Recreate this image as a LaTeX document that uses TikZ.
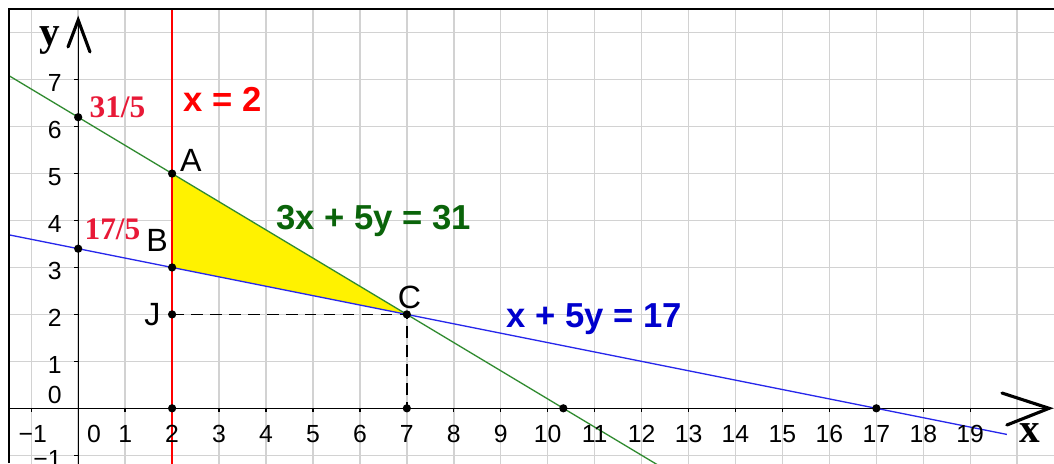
\documentclass[tikz,border=0pt]{standalone}
\usepackage{fontspec}
\setmainfont{Liberation Sans}
\newfontfamily\serifb{Liberation Serif}
\begin{document}
\begin{tikzpicture}[x=1cm,y=1cm,
  gridline/.style={draw={rgb,255:red,210;green,210;blue,210}, line width=0.9pt},
  axisline/.style={draw=black, line width=0.8pt},
  arrowstroke/.style={draw=black, line width=1.9pt, line cap=round},
  dot/.style={circle, fill=black, inner sep=0pt, minimum size=5pt},
  ticklab/.style={font=\fontsize{15}{17}\selectfont, inner sep=0pt},
  ptlab/.style={font=\fontsize{19.5}{22}\selectfont, inner sep=0pt, anchor=base},
  eqlab/.style={font=\fontsize{21}{24}\selectfont\bfseries, inner sep=0pt, anchor=base},
  fraclab/.style={font=\fontsize{19}{22}\selectfont\serifb\bfseries, inner sep=0pt, anchor=base, text={rgb,255:red,232;green,25;blue,55}},
  axlab/.style={font=\fontsize{25}{28}\selectfont\serifb\bfseries, inner sep=0pt}
]
\useasboundingbox (-1.6656,-1.165) rectangle (20.784,8.697);
\begin{scope}
\clip (-1.474,-1.165) rectangle (20.784,8.505);
% grid
\foreach \i in {-1,...,20} \draw[gridline] (\i,-1.3) -- (\i,8.6);
\foreach \j in {-1,...,8} \draw[gridline] (-1.6,\j) -- (20.9,\j);
% points
\coordinate (A) at (2,5);
\coordinate (B) at (2,3);
\coordinate (C) at (7,2);
\coordinate (J) at (2,2);
\coordinate (X2) at (2,0);
\coordinate (X7) at (7,0);
\coordinate (Xg) at (10.3333,0);
\coordinate (Xb) at (17,0);
\coordinate (Y31) at (0,6.2);
\coordinate (Y17) at (0,3.4);
% feasible region
\fill[yellow] (A) -- (B) -- (C) -- cycle;
% axes
\coordinate (xs) at (-1.474,0);
\coordinate (xe) at (20.68,0);
\coordinate (ys) at (0,-1.3);
\coordinate (ye) at (0,8.27);
\draw[axisline] (xs) -- (xe);
\draw[axisline] (ys) -- (ye);
\foreach \i in {-1,...,19} \draw[axisline] (\i,0) -- (\i,-0.08);
\foreach \j in {-1,...,7} \draw[axisline] (0,\j) -- (-0.08,\j);
% lines
\coordinate (g1) at (-2,7.4);
\coordinate (g2) at (13,-1.6);
\draw[draw={rgb,255:red,50;green,140;blue,50}, line width=0.8pt] (g1) -- (g2);
\coordinate (b1) at (-2,3.8);
\coordinate (b2) at (19.78,-0.556);
\draw[draw={rgb,255:red,40;green,40;blue,235}, line width=0.8pt] (b1) -- (b2);
\coordinate (r1) at (2,-1.3);
\coordinate (r2) at (2,8.6);
\draw[draw=red, line width=0.8pt] (r1) -- (r2);
% dashed
\draw[black, line width=1pt, dash pattern=on 7pt off 4.5pt] (J) -- (C) -- (X7);
% arrows
\coordinate (ya1) at (-0.217,7.697);
\coordinate (ya2) at (0.251,7.59);
\draw[arrowstroke] (ya1) -- (ye) -- (ya2);
\coordinate (xa1) at (19.676,0.326);
\coordinate (xa2) at (19.78,-0.356);
\draw[arrowstroke] (xa1) -- (xe) -- (xa2);
% dots
\foreach \p in {A,B,C,J,X2,X7,Xg,Xb,Y31,Y17} \node[dot] at (\p) {};
\end{scope}
% frame
\coordinate (f1) at (-1.474,-1.165);
\coordinate (f2) at (-1.474,8.505);
\coordinate (f3) at (20.784,8.505);
\draw[black, line width=1.3pt] (f1) -- (f2) -- (f3);
% tick labels
\node[ticklab, anchor=base] at (-0.97,-0.735) {−1};
\node[ticklab, anchor=base] at (0.336,-0.735) {0};
\foreach \i in {1,...,19} \node[ticklab, anchor=base] at (\i,-0.735) {\i};
\node[ticklab, anchor=base east] at (-0.345,0.113) {0};
\foreach \j in {1,...,7} \node[ticklab, anchor=base east] at (-0.345,\j-0.26) {\j};
\node[ticklab, anchor=base east] at (-0.345,-1.26) {−1};
% axis letters
\node[axlab] (ylab) at (-0.60,7.84) {y};
\node[axlab] (xlab) at (20.27,-0.52) {x};
% point labels
\node[ptlab] (lA) at (2.40,5.035) {A};
\node[ptlab] (lB) at (1.68,3.33) {B};
\node[ptlab] (lC) at (7.056,2.136) {C};
\node[ptlab] (lJ) at (1.58,1.774) {J};
\node[fraclab] (l31) at (0.837,6.187) {31/5};
\node[fraclab] (l17) at (0.73,3.59) {17/5};
% equations
\node[eqlab, text=red] (e1) at (3.074,6.315) {x = 2};
\node[eqlab, text={rgb,255:red,10;green,100;blue,10}] (e2) at (6.30,3.798) {3x + 5y = 31};
\node[eqlab, text={rgb,255:red,0;green,0;blue,205}] (e3) at (10.99,1.73) {x + 5y = 17};
\end{tikzpicture}
\end{document}
